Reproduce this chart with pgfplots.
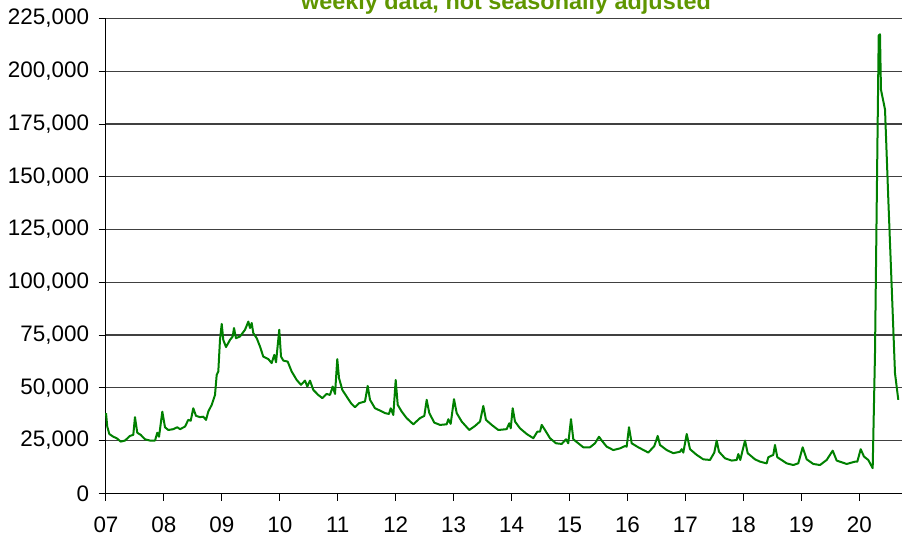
\documentclass[border=0pt]{standalone}
\usepackage{pgfplots}
\pgfplotsset{compat=1.18}
\usepackage{fontspec}
\setmainfont{Liberation Sans}
\definecolor{linegreen}{RGB}{0,128,0}
\definecolor{titlegreen}{RGB}{95,150,0}

\begin{document}
\begin{tikzpicture}
\begin{axis}[
  at={(0,0)}, anchor=south west,
  scale only axis,
  width=796bp, height=474.8bp,
  xmin=2007, xmax=2020.736,
  ymin=0, ymax=225000,
  axis x line*=bottom, axis y line*=left,
  axis line style={black, line width=1bp, -},
  xtick={2007,...,2020},
  xticklabels={07,08,09,10,11,12,13,14,15,16,17,18,19,20},
  ytick={0,25000,50000,75000,100000,125000,150000,175000,200000,225000},
  yticklabels={0,{25,000},{50,000},{75,000},{100,000},{125,000},{150,000},{175,000},{200,000},{225,000}},
  scaled x ticks=false, scaled y ticks=false,
  tick align=outside,
  major tick length=7.5bp,
  tick style={black, line width=1bp},
  ymajorgrids=true,
  grid style={black!75, line width=1.1bp},
  ticklabel style={font=\fontsize{22.5}{26}\selectfont},
  xticklabel style={yshift=-13bp},
  yticklabel style={xshift=-6bp},
  clip=false,
]
\addplot[linegreen, line width=2bp, line join=round] coordinates {
(2007.000,38000) (2007.022,31600) (2007.057,28100) (2007.126,26800)
(2007.185,26100) (2007.254,24500) (2007.328,25000) (2007.414,27200)
(2007.471,27700) (2007.500,36100) (2007.540,28700) (2007.599,27700)
(2007.673,25600) (2007.759,25000) (2007.846,25000) (2007.885,28700)
(2007.915,26800) (2007.972,38700) (2008.018,31300) (2008.075,30000)
(2008.161,30400) (2008.230,31300) (2008.277,30400) (2008.363,31600)
(2008.420,34800) (2008.462,34400) (2008.506,40300) (2008.553,36700)
(2008.622,36100) (2008.679,36300) (2008.726,34800) (2008.765,38700)
(2008.824,41900) (2008.881,46600) (2008.910,56100) (2008.938,57700)
(2008.967,72700) (2008.997,80300) (2009.024,72700) (2009.071,69300)
(2009.140,72700) (2009.186,74300) (2009.209,78300) (2009.243,73500)
(2009.312,74300) (2009.399,77500) (2009.456,81400) (2009.485,78300)
(2009.514,80700) (2009.542,75900) (2009.601,73500) (2009.657,69600)
(2009.714,64800) (2009.801,63600) (2009.859,61700) (2009.904,65600)
(2009.934,62100) (2009.990,77500) (2010.020,64800) (2010.060,62900)
(2010.135,62400) (2010.204,57700) (2010.291,53700) (2010.365,51400)
(2010.434,53400) (2010.474,50600) (2010.520,53400) (2010.577,49000)
(2010.663,46600) (2010.733,45100) (2010.808,47100) (2010.865,46600)
(2010.912,50600) (2010.952,47100) (2010.991,63600) (2011.021,54600)
(2011.078,49000) (2011.154,45800) (2011.228,42700) (2011.297,40800)
(2011.366,42700) (2011.469,43500) (2011.516,50900) (2011.556,44300)
(2011.642,40300) (2011.728,39200) (2011.814,38000) (2011.883,37600)
(2011.913,40300) (2011.958,37100) (2011.999,53700) (2012.034,41900)
(2012.103,38700) (2012.189,35600) (2012.303,32700) (2012.418,35600)
(2012.493,36700) (2012.534,44300) (2012.579,38000) (2012.665,33500)
(2012.764,32400) (2012.879,32700) (2012.907,35100) (2012.948,32900)
(2013.005,44600) (2013.052,38000) (2013.138,34000) (2013.269,30000)
(2013.367,31900) (2013.454,34000) (2013.511,41400) (2013.557,34800)
(2013.656,32400) (2013.770,30000) (2013.914,30400) (2013.959,33200)
(2013.984,30800) (2014.018,40300) (2014.058,34000) (2014.144,30800)
(2014.260,28100) (2014.374,26100) (2014.443,29200) (2014.489,29200)
(2014.519,32400) (2014.575,30000) (2014.662,26100) (2014.765,23700)
(2014.864,23400) (2014.938,25600) (2014.977,23700) (2015.024,35100)
(2015.064,25600) (2015.150,23700) (2015.236,21800) (2015.352,21800)
(2015.438,23700) (2015.507,26800) (2015.554,25000) (2015.640,22100)
(2015.754,20500) (2015.870,21300) (2015.956,22400) (2015.985,22100)
(2016.025,31300) (2016.071,23700) (2016.185,21800) (2016.358,19300)
(2016.462,22400) (2016.520,27200) (2016.560,22900) (2016.675,20500)
(2016.789,19000) (2016.905,19700) (2016.934,20900) (2016.962,19300)
(2017.021,28100) (2017.078,20900) (2017.193,18200) (2017.307,16100)
(2017.423,15800) (2017.497,19300) (2017.538,25000) (2017.578,19700)
(2017.681,16600) (2017.797,15500) (2017.883,15800) (2017.911,18600)
(2017.945,15800) (2018.027,25000) (2018.073,19000) (2018.199,16100)
(2018.285,15000) (2018.401,14200) (2018.429,17100) (2018.515,18200)
(2018.544,22900) (2018.584,17100) (2018.746,14200) (2018.860,13400)
(2018.946,14200) (2019.022,21800) (2019.091,16100) (2019.205,13900)
(2019.321,13400) (2019.436,15800) (2019.540,20200) (2019.609,15500)
(2019.782,13900) (2019.925,15000) (2019.965,15000) (2020.023,20900)
(2020.080,17400) (2020.154,15800) (2020.230,11900) (2020.270,66400)
(2020.310,161300) (2020.334,217000) (2020.356,217500) (2020.373,191300)
(2020.443,181800) (2020.500,139100) (2020.558,98000) (2020.615,56900)
(2020.672,44300)
};
\end{axis}
\node[anchor=base, text=titlegreen, font=\fontsize{23.5}{28}\selectfont\bfseries]
  at (400bp,483.8bp) {weekly data, not seasonally adjusted};
\pgfresetboundingbox
\path[use as bounding box] (-106bp,-44.7bp) rectangle (796bp,493.3bp);
\end{tikzpicture}
\end{document}
